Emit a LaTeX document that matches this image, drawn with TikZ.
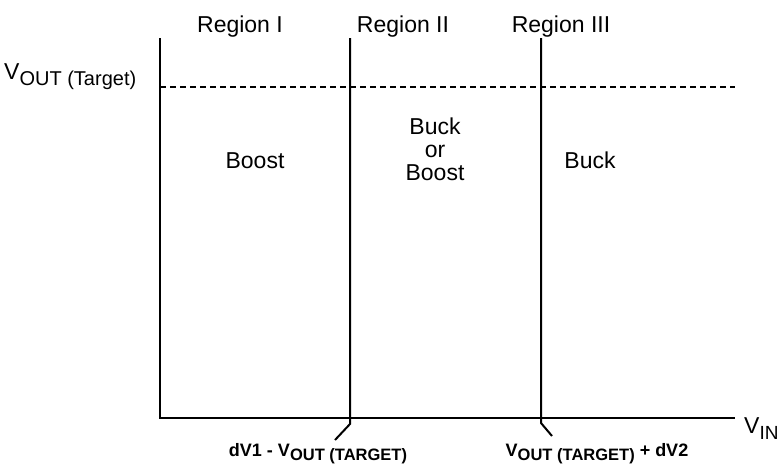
\documentclass[tikz,border=0pt]{standalone}
\usepackage{fontspec}
\setmainfont{Liberation Sans}
\newcommand{\lowsub}[2]{\raisebox{-0.27em}{\fontsize{#1}{#1}\selectfont #2}}
\begin{document}
\begin{tikzpicture}[x=1pt,y=-1pt,
  line/.style={line width=2pt,black},
  lbl/.style={font=\fontsize{23}{24}\selectfont,inner sep=0pt,align=center},
  blbl/.style={font=\fontsize{18}{20}\selectfont\bfseries,inner sep=0pt}]
\useasboundingbox (0,0) rectangle (781,464);
% axes
\coordinate (o) at (160,418);
\coordinate (top) at (160,38);
\coordinate (xend) at (735,418);
\draw[line] (top) -- (o) -- (xend);
% dashed target
\coordinate (d1) at (160,87);
\coordinate (d2) at (735,87);
\draw[line width=2pt,dash pattern=on 6pt off 4pt] (d1) -- (d2);
% dividers
\coordinate (a1) at (350,38);
\coordinate (a2) at (350,424);
\coordinate (a3) at (335,440);
\draw[line] (a1) -- (a2) -- (a3);
\coordinate (b1) at (541,38);
\coordinate (b2) at (541,423);
\coordinate (b3) at (552,436);
\draw[line] (b1) -- (b2) -- (b3);
% labels
\node[lbl,anchor=base] (r1) at (240,32) {Region I};
\node[lbl,anchor=base] (r2) at (403,32) {Region II};
\node[lbl,anchor=base] (r3) at (561,32) {Region III};
\node[lbl,anchor=base west] (vout) at (4,79) {V\lowsub{20}{OUT (Target)}};
\node[lbl,anchor=base west] (vin) at (744,433) {V\lowsub{19}{IN}};
\node[lbl,anchor=base] (boost) at (255,168) {Boost};
\node[lbl,anchor=base] (bk) at (435,134) {Buck};
\node[lbl,anchor=base] (orr) at (435,157) {or};
\node[lbl,anchor=base] (bst) at (435,180) {Boost};
\node[lbl,anchor=base] (buck) at (590,168) {Buck};
\node[blbl,anchor=base] (t1) at (318,456) {dV1 - V\lowsub{16.5}{OUT (TARGET)}};
\node[blbl,anchor=base] (t2) at (597,456) {V\lowsub{16.5}{OUT (TARGET)} + dV2};
\end{tikzpicture}
\end{document}
